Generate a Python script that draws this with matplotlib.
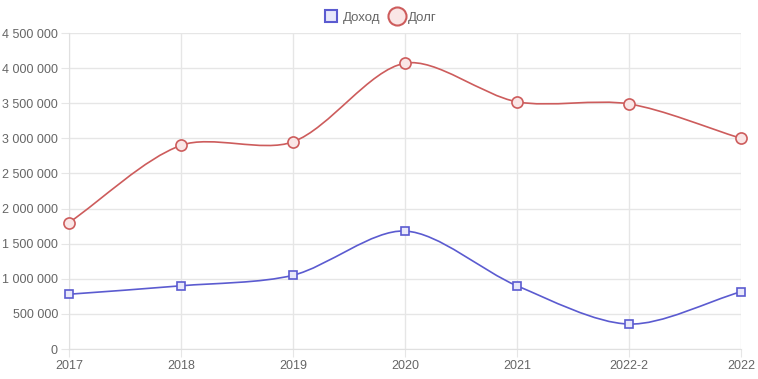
import numpy as np
import matplotlib.pyplot as plt
from matplotlib.path import Path
from matplotlib.patches import PathPatch
from matplotlib.lines import Line2D
from matplotlib.ticker import FuncFormatter, MultipleLocator

plt.rcParams['font.family'] = ['Liberation Sans', 'DejaVu Sans']

years = ['2017', '2018', '2019', '2020', '2021', '2022-2', '2022']
income = [780000, 900000, 1050000, 1680000, 900000, 355000, 815000]
debt = [1800000, 2900000, 2950000, 4070000, 3520000, 3490000, 3000000]

income_color = '#5b5bd0'
debt_color = '#cd5c5c'

fig = plt.figure(figsize=(7.58, 3.79), dpi=100)
ax = fig.add_axes([69 / 758, 30 / 379, 672 / 758, 316 / 379])
x = np.arange(len(years))
ax.set_xlim(0, len(years) - 1)
ax.set_ylim(0, 4500000)


def spline_path(xs, ys, tension=0.3):
    # Chart.js style spline, computed in pixel space
    pts = ax.transData.transform(np.column_stack([xs, ys]))
    n = len(pts)
    verts = [pts[0]]
    codes = [Path.MOVETO]
    ctrl = []
    for i in range(n):
        prev = pts[max(i - 1, 0)]
        cur = pts[i]
        nxt = pts[min(i + 1, n - 1)]
        d01 = np.hypot(*(cur - prev))
        d12 = np.hypot(*(nxt - cur))
        tot = d01 + d12
        s01 = d01 / tot if tot else 0
        s12 = d12 / tot if tot else 0
        ctrl.append((cur - tension * s01 * (nxt - prev), cur + tension * s12 * (nxt - prev)))
    for i in range(1, n):
        verts += [ctrl[i - 1][1], ctrl[i][0], pts[i]]
        codes += [Path.CURVE4] * 3
    inv = ax.transData.inverted()
    return Path(inv.transform(np.array(verts)), codes)


for vals, col in [(income, income_color), (debt, debt_color)]:
    ax.add_patch(PathPatch(spline_path(x, vals), facecolor='none', edgecolor=col, lw=1.2, zorder=3))

ax.plot(x, income, ls='none', marker='s', ms=5.5, mfc='#e8e8fa', mec=income_color, mew=1.2, zorder=4,
        clip_on=False)
ax.plot(x, debt, ls='none', marker='o', ms=8, mfc='#fae6e6', mec=debt_color, mew=1.2, zorder=4,
        clip_on=False)

ax.set_xticks(x)
ax.set_xticklabels(years)
ax.yaxis.set_major_locator(MultipleLocator(500000))
ax.yaxis.set_major_formatter(FuncFormatter(lambda v, p: f'{int(v):,}'.replace(',', ' ')))
ax.grid(True, color='#e6e6e6', lw=1)
ax.set_axisbelow(True)
for s in ['top', 'right']:
    ax.spines[s].set_visible(False)
for s in ['left', 'bottom']:
    ax.spines[s].set_color('#e0e0e0')
ax.tick_params(colors='#e6e6e6', labelcolor='#666666', labelsize=9, length=6, pad=2)

handles = [
    Line2D([], [], ls='none', marker='s', ms=9, mfc='#e8e8fa', mec=income_color, mew=1.5),
    Line2D([], [], ls='none', marker='o', ms=13, mfc='#fae6e6', mec=debt_color, mew=1.5),
]
fig.legend(handles, ['Доход', 'Долг'], loc='upper center', bbox_to_anchor=(0.5, 1.0), ncol=2,
           frameon=False, fontsize=9.5, labelcolor='#666666', handletextpad=0.1, columnspacing=0.5,
           handlelength=1.5)

plt.savefig('out.png')
